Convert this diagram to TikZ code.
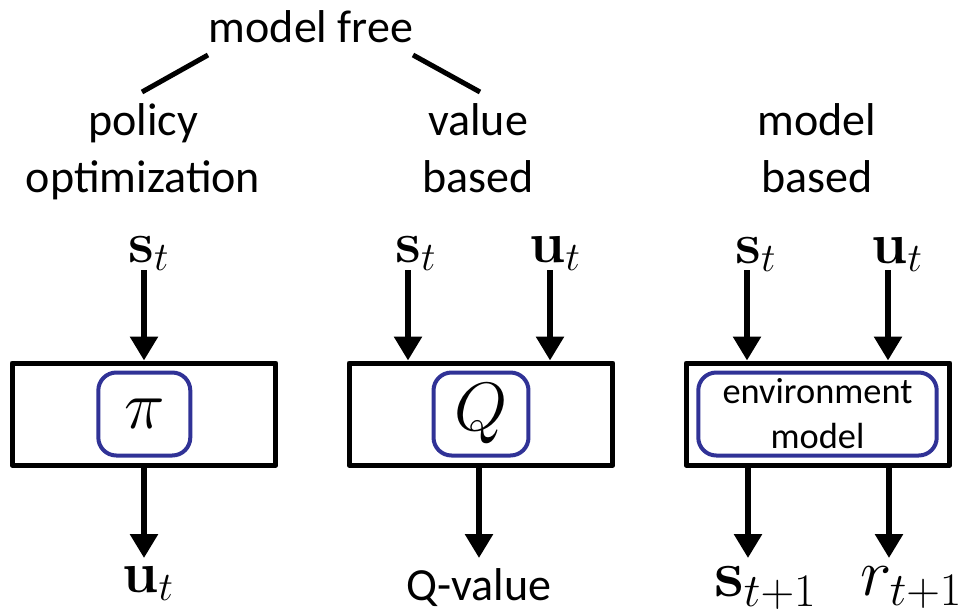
\RequirePackage{fix-cm}
\documentclass[tikz,border=0pt]{standalone}
\usepackage[no-math]{fontspec}
\setmainfont{Carlito}
\usetikzlibrary{arrows.meta}
\definecolor{innerblue}{RGB}{48,50,150}

\begin{document}
\begin{tikzpicture}[x=0.02cm,y=-0.02cm,
  lbl/.style={inner sep=0pt, font=\fontsize{26.2}{32}\selectfont},
  mathlbl/.style={inner sep=0pt, anchor=base west, font=\fontsize{33}{38}\selectfont},
  bigmath/.style={inner sep=0pt, anchor=base west, font=\fontsize{38}{44}\selectfont},
  outerbox/.style={draw, line width=0.1cm, line join=round,
    minimum width=5.28cm, minimum height=2.04cm, inner sep=0pt},
  innerbox/.style={draw=innerblue, line width=0.08cm, rounded corners=0.36cm,
    minimum height=1.66cm, inner sep=0pt, font=\fontsize{39}{44}\selectfont},
  treeline/.style={line width=0.1cm},
  arr/.style={line width=0.115cm, -{Triangle[width=0.54cm,length=0.48cm]}}]

\useasboundingbox (0,0) rectangle (973,613);

% headings
\node[lbl, anchor=base] (mf) at (311,42) {model free};
\node[lbl, anchor=base] (pol1) at (143,135) {policy};
\node[lbl, anchor=base] (pol2) at (143,192) {optimization};
\node[lbl, anchor=base] (val1) at (478,135) {value};
\node[lbl, anchor=base] (val2) at (478,192) {based};
\node[lbl, anchor=base] (mb1) at (817,135) {model};
\node[lbl, anchor=base] (mb2) at (817,192) {based};

% branches under "model free"
\coordinate (tl1) at (142,92);
\coordinate (tl2) at (208,55);
\coordinate (tr1) at (413,55);
\coordinate (tr2) at (480,92);
\draw[treeline] (tl1) -- (tl2);
\draw[treeline] (tr1) -- (tr2);

% the three function boxes
\node[outerbox] (box1) at (144,414) {};
\node[outerbox] (box2) at (481,414) {};
\node[outerbox] (box3) at (818,414) {};

\node[innerbox, minimum width=1.84cm] (pi) at (144.3,414) {$\pi$};
\node[innerbox, minimum width=1.90cm] (q) at (481,414) {$Q$};
\node[innerbox, minimum width=4.77cm, align=center,
  font=\fontsize{20.7}{25.5}\selectfont] (env) at (817.5,414) {environment\\model};

% inputs
\node[mathlbl] (s1) at (128,262) {$\mathbf{s}_t$};
\node[mathlbl] (s2) at (395,262) {$\mathbf{s}_t$};
\node[mathlbl] (u2) at (529,262) {$\mathbf{u}_t$};
\node[mathlbl] (s3) at (735,263) {$\mathbf{s}_t$};
\node[mathlbl] (u3) at (871,263) {$\mathbf{u}_t$};

\coordinate (i1) at (144,270);
\coordinate (i2a) at (408,270);
\coordinate (i2b) at (550,270);
\coordinate (i3a) at (747,270);
\coordinate (i3b) at (888,270);
\draw[arr] (i1) -- (i1 |- box1.north);
\draw[arr] (i2a) -- (i2a |- box2.north);
\draw[arr] (i2b) -- (i2b |- box2.north);
\draw[arr] (i3a) -- (i3a |- box3.north);
\draw[arr] (i3b) -- (i3b |- box3.north);

% outputs
\coordinate (o1) at (144,558);
\coordinate (o2) at (479,558);
\coordinate (o3a) at (748,558);
\coordinate (o3b) at (889,558);
\draw[arr] (box1.south) -- (o1);
\draw[arr] (o2 |- box2.south) -- (o2);
\draw[arr] (o3a |- box3.south) -- (o3a);
\draw[arr] (o3b |- box3.south) -- (o3b);

\node[mathlbl] (u1) at (122,592) {$\mathbf{u}_t$};
\node[lbl, anchor=base] (qv) at (479,600) {Q-value};
\node[bigmath] (s4) at (714,596) {$\mathbf{s}_{t+1}$};
\node[bigmath] (r4) at (860,595) {$r_{t+1}$};

\end{tikzpicture}
\end{document}
